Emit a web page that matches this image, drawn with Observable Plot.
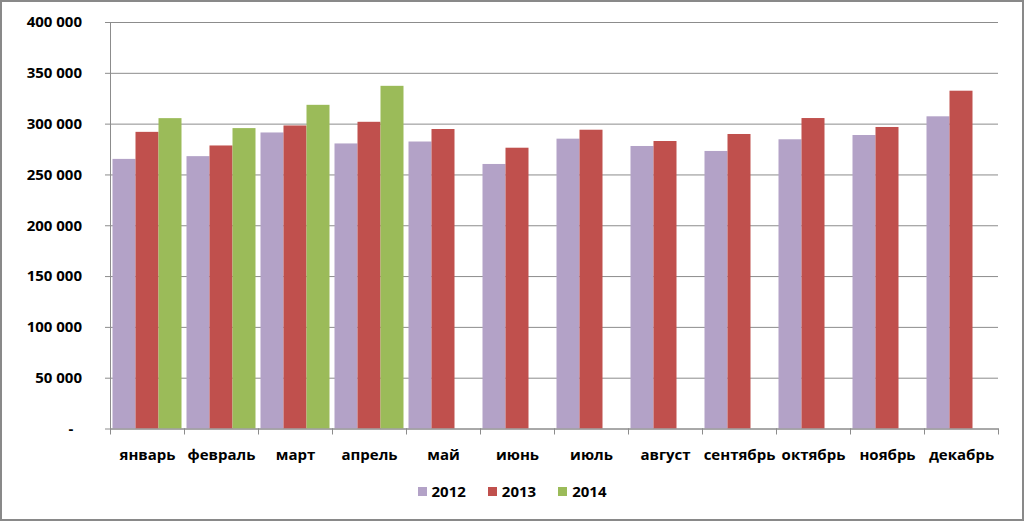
<!DOCTYPE html>
<html><head><meta charset="utf-8">
<script src="https://cdn.jsdelivr.net/npm/d3@7"></script>
<script src="https://cdn.jsdelivr.net/npm/@observablehq/plot@0.6"></script>
<style>
body{margin:0;background:#fff;}
#wrap{position:relative;width:1024px;height:521px;overflow:hidden;background:#fff;}
#border{position:absolute;left:0;top:0;width:1024px;height:521px;box-sizing:border-box;border:2px solid #898989;pointer-events:none;}
#legend{position:absolute;left:0;top:481px;width:1024px;height:20px;display:flex;justify-content:center;align-items:center;font-family:'Open Sans',sans-serif;font-weight:bold;font-size:15px;color:#000;}
.item{display:flex;align-items:center;margin:0 11px;}
.sw{width:9px;height:9px;margin-right:5px;}
</style></head><body>
<div id="wrap"><div id="chart"></div><div id="legend"></div><div id="border"></div></div>
<script>
const months = ["январь","февраль","март","апрель","май","июнь","июль","август","сентябрь","октябрь","ноябрь","декабрь"];
const years = ["2012","2013","2014"];
const colors = ["#B3A2C7","#C0504D","#9BBB59"];
const v2012 = [265300,268000,291300,280500,282400,260300,285200,278000,273100,284600,288800,307200];
const v2013 = [291900,278500,298200,301800,294700,276300,294000,282900,289800,305500,296700,332400];
const v2014 = [305400,295600,318500,337200];
const yTicks = [0,50000,100000,150000,200000,250000,300000,350000,400000];

const series = [v2012, v2013, v2014];
const data = [];
series.forEach((vals, si) => vals.forEach((v, i) => data.push({month: months[i], year: years[si], value: v})));

const fmt = d3.formatLocale({decimal:",", thousands:" ", grouping:[3], currency:["",""]}).format(",");
const gray = "#8c8c8c";

const chart = Plot.plot({
  width: 1024, height: 470,
  marginTop: 22, marginBottom: 41.5, marginLeft: 108.5, marginRight: 24,
  style: {fontFamily: "'Open Sans', sans-serif", fontSize: "15px", fontWeight: "bold", color: "#000", background: "transparent"},
  fx: {domain: months, padding: 0, label: null},
  x: {domain: years, paddingInner: 0, paddingOuter: 0.1, axis: null},
  y: {domain: [0, 400000], label: null},
  color: {domain: years, range: colors},
  marks: [
    Plot.gridY(yTicks, {stroke: gray, strokeOpacity: 1}),
    Plot.barY(data, {fx: "month", x: "year", y: "value", fill: "year"}),
    Plot.frame({anchor: "bottom", stroke: gray}),
    Plot.frame({anchor: "left", stroke: gray, facetAnchor: "left"}),
    Plot.frame({anchor: "left", stroke: gray, insetTop: 406.5, insetBottom: -5}),
    Plot.frame({anchor: "right", stroke: gray, insetTop: 406.5, insetBottom: -5, facetAnchor: "right"}),
    Plot.axisY(yTicks, {tickSize: 5, tickPadding: 23.5, stroke: gray, fill: "#000", tickFormat: d => d === 0 ? "-\u2007" : fmt(d), label: null}),
    Plot.axisFx({anchor: "bottom", tickSize: 0, tickPadding: 20, label: null, fill: "#000"})
  ]
});
document.getElementById("chart").appendChild(chart);

const legend = d3.select("#legend");
years.forEach((y, i) => {
  const it = legend.append("div").attr("class", "item");
  it.append("div").attr("class", "sw").style("background", colors[i]);
  it.append("span").text(y);
});
</script>
</body></html>
